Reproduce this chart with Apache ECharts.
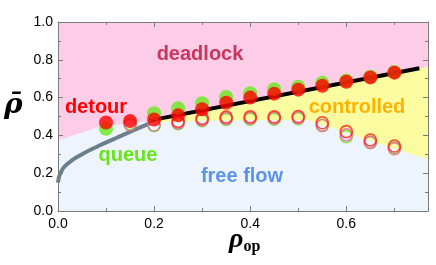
<!DOCTYPE html>
<html><head><meta charset="utf-8">
<script src="https://cdn.jsdelivr.net/npm/echarts@6/dist/echarts.min.js"></script>
<style>html,body{margin:0;padding:0;background:#fff}#c{width:436px;height:265px}</style>
</head><body><div id="c"></div>
<script>
// ---- data ----
const xMin = 0, xMax = 0.77, yMin = 0, yMax = 1.0;
const xTickStep = 0.2, yTickStep = 0.2;
const rhoOp = [0.10, 0.15, 0.20, 0.25, 0.30, 0.35, 0.40, 0.45, 0.50, 0.55, 0.60, 0.65, 0.70];
const greenFilled = [0.435, null, 0.517, 0.543, 0.570, 0.603, 0.623, 0.644, 0.658, 0.678, 0.690, 0.710, 0.735];
const redFilled   = [0.468, 0.476, 0.484, 0.506, 0.538, 0.573, 0.600, 0.621, 0.642, 0.663, 0.684, 0.707, 0.732];
const greenRing   = [null, 0.462, 0.452, 0.462, 0.478, 0.485, 0.486, 0.486, 0.488, 0.455, 0.393, 0.363, 0.335];
const pinkRing    = [null, 0.456, 0.455, 0.466, 0.482, 0.490, 0.491, 0.491, 0.493, 0.452, 0.403, 0.363, 0.330];
const redRing     = [null, null, null, 0.474, 0.490, 0.497, 0.498, 0.498, 0.500, 0.467, 0.420, 0.376, 0.344];
// boundaries
const deadlockLine = [[0.19, 0.478], [0.752, 0.755]];
const queueCurve = [[0.0, 0.15], [0.005, 0.20], [0.02, 0.25], [0.05, 0.30], [0.085, 0.345], [0.12, 0.385], [0.16, 0.43], [0.19, 0.462]];
const pinkRegion = [[0, 1], [0.77, 1], [0.77, 0.762], [0.19, 0.478], [0.08, 0.44], [0, 0.375]];
const yellowRegion = [[0.19, 0.478], [0.77, 0.762], [0.77, 0.272], [0.52, 0.482], [0.3, 0.478], [0.19, 0.468]];
const regionLabels = ['deadlock', 'detour', 'controlled', 'queue', 'free flow'];

const chart = echarts.init(document.getElementById('c'), null, {renderer: 'canvas'});
const pair = (ys) => rhoOp.map((x, i) => [x, ys[i]]).filter(p => p[1] !== null);
const poly = (pts, color) => ({
  type: 'custom', clip: true, silent: true, z: 0, data: [[0, 0]],
  renderItem: (params, api) => ({
    type: 'polygon',
    shape: {points: pts.map(p => api.coord(p))},
    style: {fill: color}
  })
});
const labelFont = {fontFamily: 'Liberation Sans', fontSize: 14, color: '#000'};
const txt = (s, x, y, color) => ({
  type: 'text', x: x, y: y, z: 20, silent: true,
  style: {text: s, fill: color, font: 'bold 20px "Liberation Sans"', align: 'center', verticalAlign: 'middle'}
});
const xAx = (pos, showLabel) => ({
  type: 'value', position: pos, min: xMin, max: xMax, interval: xTickStep,
  axisLine: {show: true, onZero: false, lineStyle: {color: '#7a7a7a'}},
  axisTick: {show: true, inside: true, length: 5, lineStyle: {color: '#7a7a7a'}},
  minorTick: {show: true, splitNumber: 2, length: 3, lineStyle: {color: '#7a7a7a'}},
  splitLine: {show: false},
  axisLabel: Object.assign({show: showLabel, margin: 6, showMaxLabel: false,
    formatter: v => Math.abs(v / xTickStep - Math.round(v / xTickStep)) < 1e-6 ? v.toFixed(1) : ''}, labelFont)
});
const yAx = (pos, showLabel) => ({
  type: 'value', position: pos, min: yMin, max: yMax, interval: yTickStep,
  axisLine: {show: true, onZero: false, lineStyle: {color: '#7a7a7a'}},
  axisTick: {show: true, inside: true, length: 5, lineStyle: {color: '#7a7a7a'}},
  minorTick: {show: true, splitNumber: 2, length: 3, lineStyle: {color: '#7a7a7a'}},
  splitLine: {show: false},
  axisLabel: Object.assign({show: showLabel, margin: 5, formatter: v => v.toFixed(1)}, labelFont)
});
const ring = (ys, color, z) => ({
  type: 'scatter', data: pair(ys), symbol: 'circle', symbolSize: 12, z: z, silent: true,
  itemStyle: {color: 'rgba(255,255,255,0)', borderColor: color, borderWidth: 1.6}
});
chart.setOption({
  animation: false,
  grid: {left: 58, right: 8, top: 22, bottom: 54, show: true, backgroundColor: '#eef4fc', borderWidth: 0},
  xAxis: [xAx('bottom', true), xAx('top', false)],
  yAxis: [yAx('left', true), yAx('right', false)],
  series: [
    poly(pinkRegion, '#fdcde8'),
    poly(yellowRegion, '#fbfba0'),
    {type: 'line', data: queueCurve, smooth: true, symbol: 'none', z: 2, silent: true,
     lineStyle: {color: '#6b808c', width: 4}},
    {type: 'line', data: deadlockLine, symbol: 'none', z: 2, silent: true,
     lineStyle: {color: '#000', width: 4}},
    {type: 'scatter', data: pair(greenFilled), symbolSize: 14, z: 3, silent: true,
     itemStyle: {color: '#66e81a'}},
    ring(greenRing, '#66e81a', 4),
    ring(pinkRing, '#e8609e', 5),
    ring(redRing, '#ff1a1a', 6),
    {type: 'scatter', data: pair(redFilled), symbolSize: 14, z: 7, silent: true,
     itemStyle: {color: '#ff0000'}}
  ],
  graphic: [
    {type: 'text', left: 4, top: 92, z: 20, silent: true,
     style: {text: 'ρ̄', fill: '#000', font: 'italic bold 28px "DejaVu Serif"'}},
    {type: 'text', left: 229, top: 226, z: 20, silent: true,
     style: {text: '{a|ρ}{b|op}', fill: '#000',
       rich: {a: {font: 'italic bold 28px "Liberation Serif"', fill: '#000'},
              b: {font: 'bold 16px "Liberation Serif"', fill: '#000', padding: [14, 0, 0, 0]}}}},
    txt(regionLabels[0], 200, 54, '#c8375b'),
    txt(regionLabels[1], 96, 107, '#ff0000'),
    txt(regionLabels[2], 357, 107, '#ffb300'),
    txt(regionLabels[3], 128, 155, '#66e619'),
    txt(regionLabels[4], 242, 176, '#5b93ec')
  ]
});
</script></body></html>
